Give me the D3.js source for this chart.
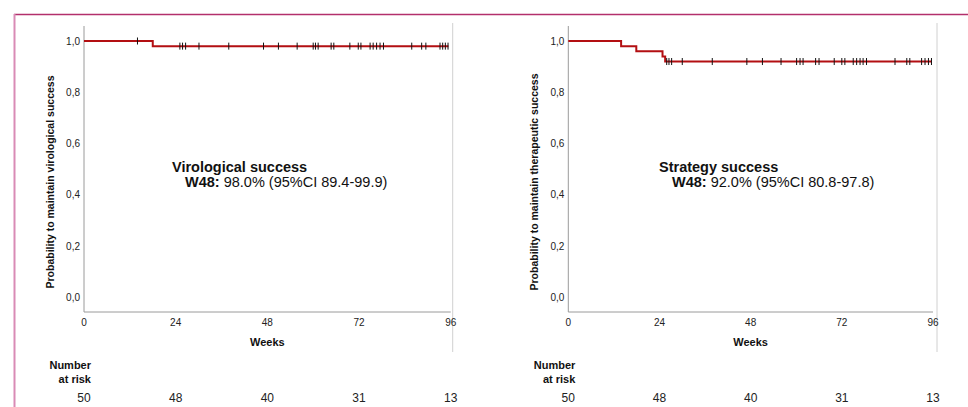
<!DOCTYPE html>
<html><head><meta charset="utf-8">
<script src="https://cdn.jsdelivr.net/npm/d3@7"></script>
<style>body{margin:0;background:#fff}svg{display:block;font-family:"Liberation Sans",Arial,sans-serif}</style>
</head><body><svg id="c" width="968" height="407"></svg>
<script>
const xTicks = [0, 24, 48, 72, 96];
const yTicks = [0, 0.2, 0.4, 0.6, 0.8, 1.0];
const atRiskLeft = [50, 48, 40, 31, 13];
const atRiskRight = [50, 48, 40, 31, 13];
// Kaplan-Meier steps [week, survival]
const stepsLeft = [[0, 1.0], [18, 0.98]];
const stepsRight = [[0, 1.0], [13.9, 0.98], [17.9, 0.96], [24.8, 0.94], [25.5, 0.92]];
const endLeft = 95.4, endRight = 95.6;
// censored observations [week]
const censorLeftTop = [14];
const censorLeft = [25.1, 25.8, 26.6, 30.1, 37.9, 47.0, 50.9, 55.8, 60.0, 60.6, 61.3, 64.7, 65.4, 69.6, 71.8, 72.5, 74.9, 75.7, 76.6, 77.5, 78.4, 85.8, 88.4, 89.5, 93.2, 93.9, 94.6, 95.3];
const censorRight = [25.9, 26.5, 27.2, 30.0, 37.9, 47.0, 51.1, 56.0, 60.1, 61.0, 61.8, 65.1, 66.0, 70.0, 72.0, 72.8, 75.0, 75.9, 76.8, 77.6, 78.5, 86.0, 89.1, 89.9, 93.0, 93.9, 94.8, 95.6];

const svg = d3.select("#c");
// frame
svg.append("line").attr("x1",14).attr("x2",968).attr("y1",14.5).attr("y2",14.5).attr("stroke","#b3306c").attr("stroke-width",1.5);
svg.append("line").attr("x1",14.5).attr("x2",14.5).attr("y1",14).attr("y2",407).attr("stroke","#d98bb6").attr("stroke-width",2);

function panel(o){
  const x = d3.scaleLinear().domain([0,96]).range([o.x0, o.x1]);
  const y = d3.scaleLinear().domain([0,1]).range([297.5, 41]);
  const g = svg.append("g");
  // right gray guide
  g.append("line").attr("x1",o.x1+o.rg).attr("x2",o.x1+o.rg).attr("y1",23).attr("y2",352).attr("stroke","#d0d0d0").attr("stroke-width",1);
  // axes lines
  g.append("line").attr("x1",o.x0).attr("x2",o.x0).attr("y1",26).attr("y2",312).attr("stroke","#9a9a9a").attr("stroke-width",1);
  g.append("line").attr("x1",o.x0).attr("x2",o.x1).attr("y1",312).attr("y2",312).attr("stroke","#9a9a9a").attr("stroke-width",1);
  // y tick labels
  g.selectAll(".yt").data(yTicks).enter().append("text")
    .attr("x",o.x0-4).attr("y",d=>y(d)).attr("dy","0.35em").attr("text-anchor","end")
    .attr("font-size",10).attr("fill","#222").text(d=>d3.format(".1f")(d).replace(".",","));
  // x tick labels
  g.selectAll(".xt").data(xTicks).enter().append("text")
    .attr("x",d=>x(d)).attr("y",322).attr("dy","0.35em").attr("text-anchor","middle")
    .attr("font-size",10).attr("fill","#222").text(d=>d);
  g.append("text").attr("x",(o.x0+o.x1)/2).attr("y",342).attr("dy","0.35em").attr("text-anchor","middle")
    .attr("font-size",11).attr("font-weight","bold").attr("fill","#111").text("Weeks");
  // y title
  g.append("text").attr("transform",`translate(${o.x0-34},182) rotate(-90)`).attr("dy","0.35em")
    .attr("text-anchor","middle").attr("font-size",10.5).attr("font-weight","bold").attr("fill","#111").text(o.ytitle);
  // number at risk
  g.append("text").attr("x",o.x0+7).attr("y",365).attr("dy","0.35em").attr("text-anchor","end")
    .attr("font-size",11).attr("font-weight","bold").attr("fill","#111").text("Number");
  g.append("text").attr("x",o.x0+7).attr("y",379).attr("dy","0.35em").attr("text-anchor","end")
    .attr("font-size",11).attr("font-weight","bold").attr("fill","#111").text("at risk");
  g.selectAll(".ar").data(o.atRisk).enter().append("text")
    .attr("x",(d,i)=>x(xTicks[i])).attr("y",398).attr("dy","0.35em").attr("text-anchor","middle")
    .attr("font-size",12).attr("fill","#222").text(d=>d);
  // curve
  const pts = o.steps.concat([[o.end, o.steps[o.steps.length-1][1]]]);
  const line = d3.line().x(d=>x(d[0])).y(d=>y(d[1])).curve(d3.curveStepAfter);
  g.append("path").attr("d",line(pts)).attr("fill","none").attr("stroke","#b30f12").attr("stroke-width",2);
  // censor marks
  const cens = [];
  o.censorTop.forEach(w=>cens.push([w,1.0]));
  const last = o.steps[o.steps.length-1][1];
  o.censor.forEach(w=>cens.push([w,last]));
  g.selectAll(".cm").data(cens).enter().append("line")
    .attr("x1",d=>x(d[0])).attr("x2",d=>x(d[0])).attr("y1",d=>y(d[1])-3.5).attr("y2",d=>y(d[1])+3.5)
    .attr("stroke","#111").attr("stroke-width",1);
  // annotation
  g.append("text").attr("x",o.ax).attr("y",172).attr("font-size",14.5).attr("font-weight","bold").attr("fill","#111").text(o.title);
  const t = g.append("text").attr("x",o.ax+13).attr("y",187).attr("font-size",14.5).attr("fill","#111");
  t.append("tspan").attr("font-weight","bold").text("W48:");
  t.append("tspan").text(" " + o.w48);
}

panel({x0:84, x1:450.7, rg:2, ytitle:"Probability to maintain virological success", atRisk:atRiskLeft,
  steps:stepsLeft, end:endLeft, censorTop:censorLeftTop, censor:censorLeft, ax:172,
  title:"Virological success", w48:"98.0% (95%CI 89.4-99.9)"});
panel({x0:568.3, x1:933, rg:4, ytitle:"Probability to maintain therapeutic success", atRisk:atRiskRight,
  steps:stepsRight, end:endRight, censorTop:[], censor:censorRight, ax:659,
  title:"Strategy success", w48:"92.0% (95%CI 80.8-97.8)"});
</script></body></html>
